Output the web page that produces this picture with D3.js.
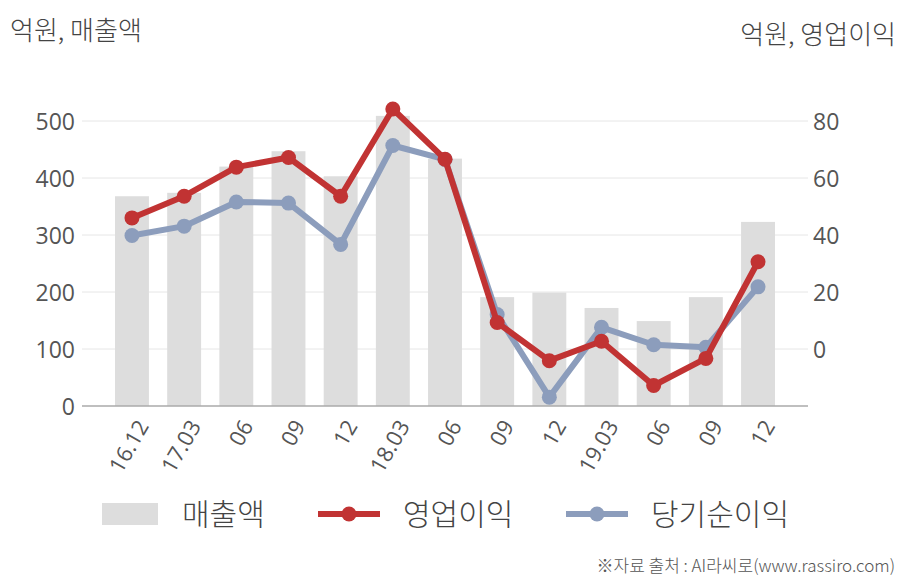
<!DOCTYPE html>
<html><head><meta charset="utf-8">
<script src="https://cdn.jsdelivr.net/npm/d3@7/dist/d3.min.js"></script>
<style>
body{margin:0;background:#fff;}
text{font-family:"Open Sans","Noto Sans CJK KR",sans-serif;}
.kr{font-family:"Noto Sans CJK KR","Open Sans",sans-serif;font-weight:300;}
</style></head>
<body><svg id="c" width="908" height="580"></svg>
<script>
const categories = ["16.12","17.03","06","09","12","18.03","06","09","12","19.03","06","09","12"];
const sales = [368,374,420,447,403,509,434,191,199,172,149,191,323];
const opProfit = [46.0,53.6,63.8,67.2,53.6,84.2,66.6,9.3,-4.1,2.7,-12.8,-3.3,30.6];
const netProfit = [39.8,43.1,51.6,51.2,36.7,71.4,66.5,12.1,-16.9,7.6,1.5,0.6,21.8];
const leftTicks = [0,100,200,300,400,500];
const rightTicks = [0,20,40,60,80];

const svg = d3.select("#c");
const x0 = 82, x1 = 808, yBottom = 406, yTop = 121;
const x = d3.scaleBand().domain(d3.range(categories.length)).range([x0,x1]).paddingInner(0.35).paddingOuter(0.633);
const yL = d3.scaleLinear().domain([0,500]).range([yBottom,yTop]);
const yR = d3.scaleLinear().domain([-20,80]).range([yBottom,yTop]);

// gridlines
svg.append("g").selectAll("line").data(leftTicks.slice(1)).join("line")
  .attr("x1",x0).attr("x2",x1).attr("y1",d=>yL(d)).attr("y2",d=>yL(d))
  .attr("stroke","#e6e6e6").attr("stroke-width",1);

// bars
svg.append("g").selectAll("rect").data(sales).join("rect")
  .attr("x",(d,i)=>x(i)).attr("width",x.bandwidth())
  .attr("y",d=>yL(d)).attr("height",d=>yBottom-yL(d))
  .attr("fill","#dddddd");

// baseline
svg.append("line").attr("x1",x0).attr("x2",x1).attr("y1",yBottom).attr("y2",yBottom)
  .attr("stroke","#aaaaaa").attr("stroke-width",1.5);

// left axis
const la = svg.append("g").attr("transform",`translate(${x0-7},0)`)
  .call(d3.axisLeft(yL).tickValues(leftTicks).tickSize(0).tickPadding(0));
la.select(".domain").remove();
la.selectAll("text").attr("font-size",23).attr("fill","#555").attr("dy","0.35em");

// right axis
const ra = svg.append("g").attr("transform",`translate(${x1+5},0)`)
  .call(d3.axisRight(yR).tickValues(rightTicks).tickSize(0).tickPadding(0));
ra.select(".domain").remove();
ra.selectAll("text").attr("font-size",23).attr("fill","#555").attr("dy","0.35em");

// x labels
const cx = i => x(i)+x.bandwidth()/2;
svg.append("g").selectAll("text").data(categories).join("text")
  .attr("transform",(d,i)=>`translate(${cx(i)+11},${yBottom+16}) rotate(-60)`)
  .attr("text-anchor","end").attr("dy","0.35em")
  .attr("font-size",22).attr("fill","#555").text(d=>d);

// lines
function drawLine(data,color){
  const line = d3.line().x((d,i)=>cx(i)).y(d=>yR(d));
  svg.append("path").datum(data).attr("d",line).attr("fill","none")
    .attr("stroke",color).attr("stroke-width",6).attr("stroke-linejoin","round");
  svg.append("g").selectAll("circle").data(data).join("circle")
    .attr("cx",(d,i)=>cx(i)).attr("cy",d=>yR(d)).attr("r",7.5).attr("fill",color);
}
drawLine(netProfit,"#8c9dbc");
drawLine(opProfit,"#c13333");

// titles
svg.append("text").attr("class","kr").attr("x",10).attr("y",40).attr("font-size",26).attr("fill","#444").text("억원, 매출액");
svg.append("text").attr("class","kr").attr("x",896).attr("y",44).attr("text-anchor","end").attr("font-size",26).attr("fill","#444").text("억원, 영업이익");

// legend
const ly = 514;
svg.append("rect").attr("x",102).attr("y",ly-11).attr("width",56).attr("height",22).attr("fill","#dddddd");
svg.append("text").attr("class","kr").attr("x",182).attr("y",ly).attr("dy","0.35em").attr("font-size",30).attr("fill","#444").text("매출액");
svg.append("line").attr("x1",318).attr("x2",380).attr("y1",ly).attr("y2",ly).attr("stroke","#c13333").attr("stroke-width",6);
svg.append("circle").attr("cx",349).attr("cy",ly).attr("r",7.5).attr("fill","#c13333");
svg.append("text").attr("class","kr").attr("x",403).attr("y",ly).attr("dy","0.35em").attr("font-size",30).attr("fill","#444").text("영업이익");
svg.append("line").attr("x1",566).attr("x2",628).attr("y1",ly).attr("y2",ly).attr("stroke","#8c9dbc").attr("stroke-width",6);
svg.append("circle").attr("cx",597).attr("cy",ly).attr("r",7.5).attr("fill","#8c9dbc");
svg.append("text").attr("class","kr").attr("x",651).attr("y",ly).attr("dy","0.35em").attr("font-size",30).attr("fill","#444").text("당기순이익");

// source
svg.append("text").attr("class","kr").attr("x",895).attr("y",572).attr("text-anchor","end").attr("font-size",17).attr("fill","#555").text("※자료 출처 : AI라씨로(www.rassiro.com)");
</script></body></html>
